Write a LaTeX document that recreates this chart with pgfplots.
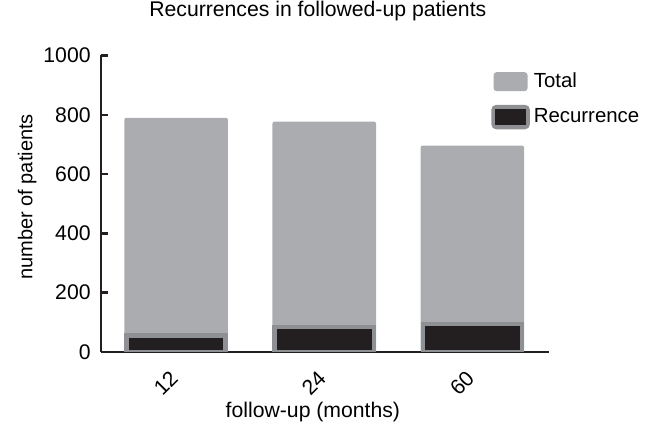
\documentclass[border=0pt]{standalone}
\usepackage{fontspec}
\setmainfont{Liberation Sans}
\usepackage{pgfplots}
\pgfplotsset{compat=1.18}
\definecolor{totgray}{HTML}{ABACAF}
\definecolor{edgegray}{HTML}{8F9093}
\definecolor{recblack}{HTML}{231F20}
\begin{document}
\begin{tikzpicture}
\path[use as bounding box] (-50.5pt,-40pt) rectangle (279pt,176pt);
\begin{axis}[
    at={(0,0)}, anchor=south west,
    scale only axis,
    width=224pt, height=148.25pt,
    xmin=-0.507, xmax=2.517,
    ymin=0, ymax=1000,
    axis lines*=left,
    axis line style={line width=1.25pt, color=recblack},
    xtick={0,1,2},
    xticklabels={12,24,60},
    xtick style={draw=none},
    ytick={0,200,...,1000},
    ytick style={line width=1.25pt, color=recblack},
    tick align=inside,
    major tick length=3.5pt,
    font=\fontsize{10.6}{12}\selectfont,
    /pgf/number format/assume math mode=true,
    /pgf/number format/1000 sep={},
    yticklabel style={anchor=east, inner sep=0pt, xshift=-5pt},
    xticklabel style={xshift=-3.7pt, yshift=-8.5pt, rotate=45, anchor=north east, inner sep=0pt},
    title={Recurrences in followed-up patients},
    title style={at={(rel axis cs:0.484,1.11)}, anchor=center, font=\fontsize{10.6}{12}\selectfont},
    xlabel={follow-up (months)},
    xlabel style={at={(rel axis cs:0.473,-0.202)}, anchor=center},
    ylabel={number of patients},
    ylabel style={at={(rel axis cs:-0.165,0.523)}, anchor=center, rotate=0, font=\fontsize{10}{12}\selectfont},
    legend style={draw=none, fill=none, at={(rel axis cs:0.857,0.97)}, anchor=north west,
        row sep=5pt, font=\fontsize{10.2}{12}\selectfont},
    legend cell align=left,
]
\addplot[ybar, bar width=0.699, bar shift=0pt, fill=totgray, draw=none, rounded corners=1pt,
    legend image code/.code={\fill[totgray, rounded corners=1.5pt] (0pt,-4.75pt) rectangle (17pt,4.75pt);}]
    coordinates {(0,790) (1,777) (2,696)};
\addlegendentry{Total}
\addplot[ybar, bar width=0.669, bar shift=0pt, fill=recblack, draw=edgegray, line width=2.25pt,
    legend image code/.code={\fill[edgegray, rounded corners=1.5pt] (0pt,-5pt) rectangle (17pt,5pt);
        \fill[recblack] (2pt,-3pt) rectangle (15pt,3pt);}]
    coordinates {(0,56) (1,85) (2,94)};
\addlegendentry{Recurrence}
\end{axis}
\end{tikzpicture}
\end{document}
